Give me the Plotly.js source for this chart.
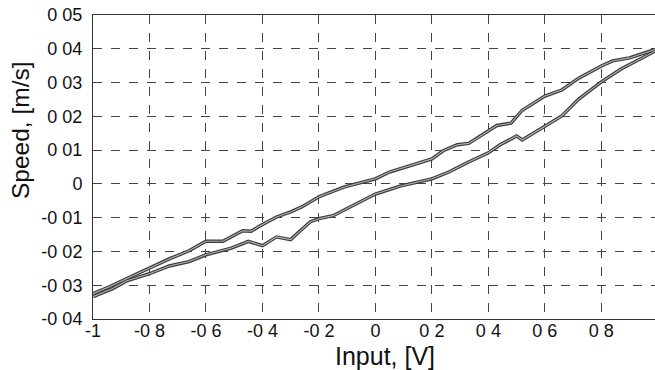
<!DOCTYPE html>
<html>
<head>
<meta charset="utf-8">
<script src="https://cdn.plot.ly/plotly-3.0.1.min.js"></script>
<style>html,body{margin:0;padding:0;background:#fff;}#chart{width:655px;height:370px;}</style>
</head>
<body>
<div id="chart"></div>
<script>
// Upper branch of the hysteresis loop
const upperX = [-1, -0.94, -0.88, -0.8, -0.73, -0.66, -0.6, -0.54, -0.47, -0.44, -0.4, -0.35, -0.3, -0.26, -0.2, -0.11, 0, 0.05, 0.12, 0.2, 0.24, 0.29, 0.33, 0.37, 0.43, 0.48, 0.52, 0.6, 0.66, 0.72, 0.8, 0.84, 0.9, 0.99];
const upperY = [-0.0325, -0.0304, -0.028, -0.0248, -0.0222, -0.0198, -0.017, -0.017, -0.0139, -0.014, -0.012, -0.0098, -0.0083, -0.0068, -0.0038, -0.0009, 0.0015, 0.0035, 0.0053, 0.0074, 0.0098, 0.0116, 0.012, 0.0142, 0.0173, 0.018, 0.0218, 0.026, 0.0278, 0.0313, 0.0349, 0.0364, 0.0373, 0.0398];
// Lower branch
const lowerX = [-1, -0.93, -0.88, -0.8, -0.73, -0.66, -0.6, -0.51, -0.45, -0.4, -0.35, -0.3, -0.27, -0.23, -0.2, -0.15, 0, 0.09, 0.2, 0.26, 0.33, 0.4, 0.44, 0.5, 0.52, 0.6, 0.66, 0.72, 0.8, 0.87, 0.99];
const lowerY = [-0.0334, -0.031, -0.0287, -0.0266, -0.0243, -0.023, -0.021, -0.019, -0.017, -0.0183, -0.0157, -0.0165, -0.0142, -0.0112, -0.0103, -0.0094, -0.003, -0.0006, 0.0015, 0.0035, 0.0065, 0.0092, 0.0115, 0.0142, 0.013, 0.0172, 0.0201, 0.0251, 0.0302, 0.034, 0.0393];

const xTickVals = [-1, -0.8, -0.6, -0.4, -0.2, 0, 0.2, 0.4, 0.6, 0.8];
const xTickText = ["-1", "-0 8", "-0 6", "-0 4", "-0 2", "0", "0 2", "0 4", "0 6", "0 8"];
const yTickVals = [0.05, 0.04, 0.03, 0.02, 0.01, 0, -0.01, -0.02, -0.03, -0.04];
const yTickText = ["0 05", "0 04", "0 03", "0 02", "0 01", "0", "-0 01", "-0 02", "-0 03", "-0 04"];
const xTitle = 'Input, [V]';
const yTitle = 'Speed, [m/s]';

const outer = {type: 'scatter', mode: 'lines', line: {color: '#3a3a3a', width: 3.4}, hoverinfo: 'skip', showlegend: false};
const inner = {type: 'scatter', mode: 'lines', line: {color: '#b4b4b4', width: 1.1}, hoverinfo: 'skip', showlegend: false};

const data = [
  Object.assign({x: upperX, y: upperY}, outer),
  Object.assign({x: lowerX, y: lowerY}, outer),
  Object.assign({x: upperX, y: upperY}, inner),
  Object.assign({x: lowerX, y: lowerY}, inner)
];

const fam = 'Liberation Sans, Arial, sans-serif';

const layout = {
  width: 655, height: 370,
  margin: {l: 93, r: 0, t: 15, b: 51},
  paper_bgcolor: '#fff', plot_bgcolor: '#fff',
  font: {family: fam, color: '#111'},
  showlegend: false,
  xaxis: {
    range: [-1, 0.99],
    tickvals: xTickVals, ticktext: xTickText,
    tickfont: {size: 18, family: fam, color: '#111'},
    showgrid: true, gridcolor: '#444', gridwidth: 1, griddash: 'dash',
    zeroline: false,
    showline: true, linecolor: '#333', linewidth: 1, mirror: true,
    ticks: '', ticklen: 0, ticklabelstandoff: -5
  },
  yaxis: {
    range: [-0.04, 0.05],
    tickvals: yTickVals, ticktext: yTickText,
    tickfont: {size: 18, family: fam, color: '#111'},
    showgrid: true, gridcolor: '#444', gridwidth: 1, griddash: 'dash',
    zeroline: false,
    showline: true, linecolor: '#333', linewidth: 1, mirror: false,
    ticks: '', ticklen: 0, ticklabelstandoff: 6
  },
  annotations: [
    {text: xTitle, xref: 'paper', yref: 'paper', x: 0.5196, y: -0.122, xanchor: 'center', yanchor: 'middle',
     showarrow: false, font: {size: 25, family: fam, color: '#111'}},
    {text: yTitle, xref: 'paper', yref: 'paper', x: -0.128, y: 0.622, xanchor: 'center', yanchor: 'middle',
     textangle: -90, showarrow: false, font: {size: 24.5, family: fam, color: '#111'}}
  ]
};

Plotly.newPlot('chart', data, layout, {displayModeBar: false, staticPlot: true});
</script>
</body>
</html>
